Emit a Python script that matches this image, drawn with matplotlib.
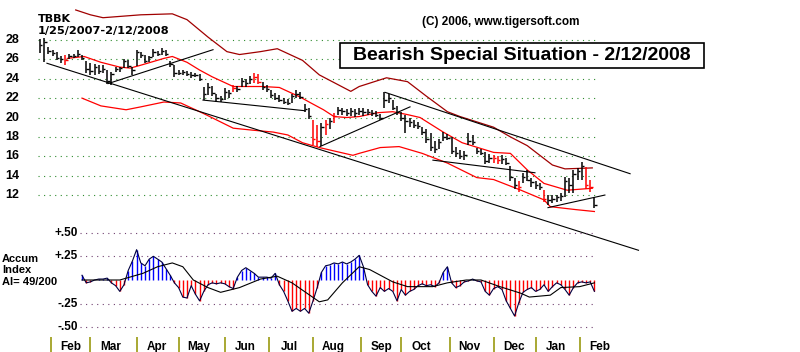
import matplotlib
matplotlib.use("Agg")
import matplotlib.pyplot as plt
from matplotlib.patches import Rectangle

plt.rcParams['font.family'] = ['Liberation Sans', 'DejaVu Sans']

# price bars, every 2nd trading day, day 0 = 1/25/2007
day = list(range(0, 265, 2))
hi = [28.1, 28.2, 27.3, 27.0, 26.8, 26.3, 26.5, 26.6, 26.6, 27.0,
      26.5, 25.8, 25.6, 25.5, 25.4, 25.4, 24.9, 24.7, 25.2, 25.2,
      26.0, 25.9, 25.2, 27.0, 26.8, 26.5, 26.4, 27.1, 26.9, 27.2,
      27.0, 25.8, 25.4, 24.9, 24.9, 24.8, 24.7, 24.6, 24.5, 23.2,
      23.6, 23.3, 22.4, 22.2, 23.0, 22.8, 23.4, 23.3, 24.1, 24.0,
      24.3, 24.6, 24.5, 23.7, 23.4, 22.8, 22.5, 22.3, 22.0, 21.9,
      22.4, 22.8, 22.6, 21.4, 21.0, 19.7, 19.2, 19.4, 19.7, 20.0,
      20.5, 21.1, 21.0, 20.9, 21.0, 20.9, 21.0, 21.0, 20.9, 20.8,
      20.7, 20.4, 22.6, 22.4, 21.8, 21.2, 20.6, 20.3, 20.0, 19.7,
      19.5, 19.0, 18.8, 18.4, 17.6, 17.8, 18.5, 18.3, 18.0, 17.0,
      16.6, 16.5, 18.4, 18.2, 16.9, 16.8, 16.4, 16.2, 16.1, 16.0,
      16.1, 15.8, 15.0, 13.8, 13.4, 14.3, 14.6, 13.8, 13.5, 13.2,
      12.5, 12.0, 12.0, 12.0, 12.2, 13.9, 13.8, 14.6, 14.8, 15.4,
      14.9, 13.6, 11.8]
lo = [26.7, 25.7, 26.6, 26.4, 25.9, 25.6, 25.4, 26.0, 26.1, 26.2,
      25.9, 24.6, 24.4, 24.4, 24.5, 24.6, 23.5, 23.4, 24.7, 24.7,
      25.1, 25.1, 24.4, 25.3, 26.1, 25.6, 25.7, 26.2, 26.3, 26.5,
      26.4, 25.2, 24.2, 24.4, 24.4, 24.3, 24.1, 24.2, 23.8, 21.8,
      22.3, 22.2, 21.6, 21.6, 21.8, 22.0, 22.6, 22.6, 23.2, 23.2,
      23.5, 23.6, 23.5, 22.8, 22.6, 22.0, 21.8, 21.6, 21.4, 21.3,
      21.5, 22.0, 21.9, 20.6, 19.8, 17.2, 17.0, 17.1, 18.2, 18.8,
      19.4, 20.3, 20.3, 20.2, 20.2, 20.1, 20.3, 20.2, 20.3, 20.2,
      20.1, 19.7, 21.0, 21.5, 20.8, 20.3, 19.6, 18.4, 19.0, 18.9,
      18.8, 18.2, 17.4, 16.5, 16.3, 16.8, 17.6, 17.7, 16.2, 15.9,
      15.7, 15.6, 17.2, 17.2, 16.2, 16.1, 15.2, 15.3, 15.3, 15.2,
      15.2, 15.1, 13.5, 12.6, 12.3, 13.2, 13.4, 12.8, 12.6, 12.5,
      11.3, 11.0, 11.2, 11.3, 11.4, 11.8, 12.2, 12.2, 13.6, 13.6,
      12.6, 12.3, 10.7]
cl = [27.5, 27.8, 26.9, 26.7, 26.1, 26.0, 25.9, 26.3, 26.4, 26.6,
      26.1, 25.0, 24.8, 25.2, 24.8, 25.0, 23.8, 24.5, 25.0, 25.1,
      25.8, 25.3, 24.9, 26.8, 26.5, 25.8, 26.2, 26.8, 26.6, 26.9,
      26.6, 25.5, 24.6, 24.6, 24.7, 24.5, 24.4, 24.4, 24.0, 22.4,
      23.2, 22.5, 22.0, 21.9, 22.6, 22.5, 23.0, 22.9, 23.8, 23.6,
      24.0, 24.2, 23.7, 23.2, 22.9, 22.3, 22.0, 21.8, 21.6, 21.5,
      22.2, 22.4, 22.1, 20.9, 20.2, 17.8, 17.6, 19.0, 19.3, 19.6,
      20.2, 20.8, 20.7, 20.5, 20.7, 20.5, 20.7, 20.6, 20.6, 20.5,
      20.3, 20.0, 21.8, 22.0, 21.0, 20.6, 20.0, 19.6, 19.5, 19.2,
      19.1, 18.5, 17.8, 17.0, 16.8, 17.5, 18.0, 17.9, 16.5, 16.3,
      16.0, 16.1, 17.6, 17.5, 16.5, 16.3, 15.5, 15.8, 15.8, 15.6,
      15.7, 15.3, 13.9, 13.0, 12.8, 13.9, 13.6, 13.3, 13.0, 12.8,
      11.6, 11.5, 11.6, 11.8, 11.9, 13.5, 13.0, 14.2, 14.5, 15.0,
      13.0, 12.8, 11.0]
red_days = [12, 92, 102, 104, 130, 132, 136, 140, 216, 218, 228, 240, 260, 262]

# bands
outer_day = [17, 24, 30, 48, 63, 70, 80, 89, 95, 105, 113, 125, 133, 148, 152,
             165, 175, 184, 194, 200, 216, 224, 232, 244, 250, 263]
outer_band = [31.1, 30.6, 30.3, 30.6, 30.7, 30.1, 28.3, 26.8, 26.5, 26.8, 27.1,
              25.9, 24.4, 22.7, 23.2, 24.1, 23.7, 22.2, 20.6, 20.1, 19.0, 18.0,
              17.1, 15.1, 14.7, 14.8]
upper_day = [13, 21, 29, 38, 43, 48, 59, 63, 70, 76, 82, 92, 106, 114, 124, 129,
             135, 140, 146, 152, 161, 168, 175, 181, 192, 201, 216, 224, 232,
             240, 251, 263]
upper_band = [26.1, 26.3, 25.7, 25.2, 25.1, 25.4, 26.1, 26.3, 25.7, 24.9, 24.2,
              23.2, 23.2, 23.1, 22.1, 21.5, 20.8, 20.1, 20.0, 20.1, 20.5, 20.6,
              20.3, 20.0, 18.5, 17.4, 16.4, 16.3, 14.6, 13.2, 12.5, 12.7]
lower_day = [20, 29, 41, 48, 59, 67, 78, 92, 101, 111, 118, 125, 133, 143, 149,
             152, 162, 171, 182, 194, 208, 216, 229, 240, 243, 255, 264]
lower_band = [22.0, 21.2, 20.8, 21.1, 21.6, 21.5, 20.4, 18.9, 18.7, 18.5, 18.2,
              17.4, 16.9, 16.4, 16.1, 16.3, 16.9, 17.0, 16.3, 15.3, 13.8, 13.6,
              12.5, 11.5, 10.8, 10.5, 10.3]

# trend lines (start day, start price, end day, end price)
trend_d0 = [3.3, 32.4, 77.6, 133.3, 164.3, 187.1, 241.9]
trend_p0 = [25.6, 23.5, 21.8, 17.0, 22.6, 15.6, 10.7]
trend_d1 = [285.0, 82.4, 126.2, 176.2, 281.0, 235.7, 269.0]
trend_p1 = [6.3, 27.0, 20.7, 21.1, 14.2, 14.3, 12.0]

price_ticks = [28, 26, 24, 22, 20, 18, 16, 14, 12]

# accumulation index
ai_day = list(range(20, 265, 2))
ai_val = [0.05, -0.03, -0.02, 0.00, 0.01, 0.01, 0.02, -0.03, -0.06, -0.12,
          -0.05, 0.10, 0.20, 0.32, 0.18, 0.15, 0.22, 0.25, 0.22, 0.19,
          0.12, 0.05, -0.03, -0.08, -0.18, -0.19, -0.06, -0.15, -0.22, -0.12,
          -0.05, -0.03, -0.04, -0.03, -0.04, -0.07, -0.09, 0.03, 0.10, 0.13,
          0.10, 0.07, 0.03, 0.03, 0.03, 0.02, 0.07, -0.05, -0.12, -0.22,
          -0.33, -0.30, -0.33, -0.30, -0.35, -0.22, -0.08, 0.08, 0.15, 0.16,
          0.18, 0.17, 0.19, 0.17, 0.19, 0.22, 0.26, 0.14, -0.05, -0.12,
          -0.17, -0.08, -0.12, -0.09, -0.12, -0.22, -0.10, -0.16, -0.12, -0.10,
          -0.06, -0.04, -0.06, -0.05, -0.07, -0.03, 0.08, 0.14, -0.03, -0.08,
          -0.06, -0.02, -0.01, 0.01, -0.01, -0.02, -0.12, -0.16, -0.09, -0.07,
          -0.10, -0.22, -0.30, -0.38, -0.24, -0.13, -0.10, -0.08, -0.12, -0.10,
          -0.05, -0.12, -0.07, -0.03, -0.05, -0.10, -0.16, -0.08, -0.03, -0.02,
          -0.03, -0.02, -0.12]
ma_day = [20, 38, 49, 56, 63, 68, 73, 80, 86, 95, 105, 113, 120, 133, 137, 144,
          152, 157, 168, 175, 187, 194, 203, 210, 219, 229, 233, 243, 248, 257, 264]
ma_val = [0.0, 0.0, 0.07, 0.14, 0.18, 0.14, 0.0, -0.08, -0.13, -0.08, 0.01, 0.04,
          -0.03, -0.23, -0.21, -0.03, 0.14, 0.11, -0.02, -0.07, -0.07, -0.03, 0.0,
          0.0, -0.07, -0.14, -0.18, -0.16, -0.08, -0.07, -0.03]
ai_ticks = [0.5, 0.25, -0.25, -0.5]
ai_tick_labels = ['+.50', '+.25', '-.25', '-.50']

month_start = [5, 24, 46, 66, 88, 109, 130, 153, 172, 195, 216, 236, 257]
month_names = ['Feb', 'Mar', 'Apr', 'May', 'Jun', 'Jul', 'Aug', 'Sep', 'Oct',
               'Nov', 'Dec', 'Jan', 'Feb']

W, H = 800, 352
PXD = 2.1      # pixels per trading day
X0 = 40        # pixel of day 0
PXP = 9.69     # pixels per price unit (28 sits at y=40)
PXA = 94.8     # pixels per AI unit (zero at y=280)


def fx(x):
    return x / W


def fy(y):
    return 1 - y / H


fig = plt.figure(figsize=(8, 3.52), dpi=100)
fig.patch.set_facecolor('white')

xlim = (-X0 / PXD, (W - X0) / PXD)

ax = fig.add_axes([0, 0, 1, 1])
ax.set_xlim(*xlim)
ax.set_ylim(28 - (H - 40) / PXP, 28 + 40 / PXP)
ax.axis('off')

for p in price_ticks:
    ax.plot([-1, 264.3], [p, p], color='#2e8b2e', lw=0.8, ls=(0, (1, 4)))
    ax.text((19.5 - X0) / PXD, p, str(p), ha='right', va='center',
            fontsize=9, fontweight='bold')

ax.plot(outer_day, outer_band, color='#a00000', lw=0.9)
ax.plot(upper_day, upper_band, color='#ff0000', lw=0.9)
ax.plot(lower_day, lower_band, color='#ff0000', lw=0.9)

for d0, p0, d1, p1 in zip(trend_d0, trend_p0, trend_d1, trend_p1):
    ax.plot([d0, d1], [p0, p1], color='black', lw=0.8)

for d, h, l, c in zip(day, hi, lo, cl):
    col = 'red' if d in red_days else 'black'
    ax.plot([d, d], [l, h], color=col, lw=1.1, solid_capstyle='butt')
    ax.plot([d, d + 1.1], [c, c], color=col, lw=1.0, solid_capstyle='butt')

# month separators and labels
ax.vlines(month_start, 28 - (H - 40) / PXP, 28 - (337 - 40) / PXP,
          color='#9a9a10', lw=1.2)
for m, name in zip(month_start, month_names):
    ax.text(m + 9.6, 28 - (350 - 40) / PXP, name, ha='center', va='baseline',
            fontsize=8.5, fontweight='bold')

# accumulation index panel
ax2 = fig.add_axes([0, 0, 1, 1])
ax2.set_xlim(*xlim)
ax2.set_ylim(-(H - 280) / PXA, 280 / PXA)
ax2.patch.set_alpha(0)
ax2.axis('off')

for v, lab in zip(ai_ticks, ai_tick_labels):
    ax2.plot([19, 264.3], [v, v], color='#704070', lw=0.8, ls=(0, (1, 4)))
    ax2.text((78 - X0) / PXD, v, lab, ha='right', va='center',
             fontsize=8.5, fontweight='bold')

for d, v in zip(ai_day, ai_val):
    ax2.plot([d, d], [0, v], color='#0000ff' if v > 0 else '#ff0000',
             lw=1.0, solid_capstyle='butt')
ax2.plot(ai_day, ai_val, color='#000040', lw=0.8)
ax2.plot(ma_day, ma_val, color='black', lw=0.8)

# texts
fig.text(fx(2), fy(262), 'Accum', fontsize=8, fontweight='bold', va='baseline')
fig.text(fx(2), fy(273), 'Index', fontsize=8, fontweight='bold', va='baseline')
fig.text(fx(2), fy(285), 'AI= 49/200', fontsize=8, fontweight='bold', va='baseline')

fig.text(fx(38), fy(22), 'TBBK', fontsize=8, fontweight='bold', va='baseline',
         family='DejaVu Sans')
fig.text(fx(38), fy(34), '1/25/2007-2/12/2008', fontsize=8.2, fontweight='bold',
         va='baseline', family='DejaVu Sans')
fig.text(fx(422), fy(25), '(C) 2006, www.tigersoft.com', fontsize=8.5,
         fontweight='bold', va='baseline')

fig.patches.append(Rectangle((fx(340), fy(68)), 364 / W, 25 / H,
                             transform=fig.transFigure, fc='white', ec='black',
                             lw=1.2, zorder=5))
fig.text(fx(522), fy(56), 'Bearish Special Situation - 2/12/2008', fontsize=14,
         fontweight='bold', ha='center', va='center', zorder=6)

fig.savefig('out.png', dpi=100, facecolor='white')
